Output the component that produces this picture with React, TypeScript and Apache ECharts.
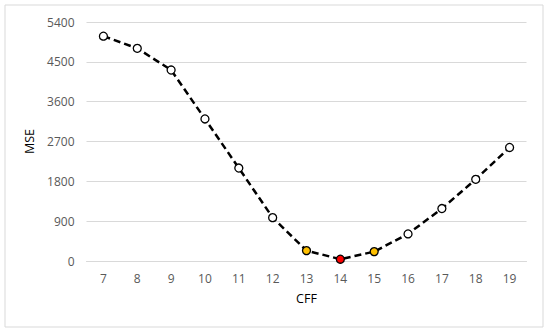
import React, { useEffect, useRef } from "react";
import * as echarts from "echarts";

const categories = ["7", "8", "9", "10", "11", "12", "13", "14", "15", "16", "17", "18", "19"];
const mseValues = [5080, 4805, 4315, 3210, 2100, 980, 235, 40, 212, 612, 1185, 1845, 2565];
const pointColors = ["#ffffff", "#ffffff", "#ffffff", "#ffffff", "#ffffff", "#ffffff", "#ffc000", "#ff0000", "#ffc000", "#ffffff", "#ffffff", "#ffffff", "#ffffff"];
const yMin = 0;
const yMax = 5400;
const yInterval = 900;

export default function App() {
  const ref = useRef<HTMLDivElement>(null);
  useEffect(() => {
    if (!ref.current) return;
    const chart = echarts.init(ref.current, undefined, { renderer: "svg" });
    const font = "Open Sans";
    chart.setOption({
      animation: false,
      backgroundColor: "#ffffff",
      textStyle: { fontFamily: font },
      graphic: [
        {
          type: "rect",
          shape: { x: 5, y: 5, width: 538, height: 322 },
          style: { fill: "none", stroke: "#d9d9d9", lineWidth: 1 },
          silent: true,
        },
      ],
      grid: { left: 86.5, right: 23.5, top: 22, bottom: 73 },
      xAxis: {
        type: "category",
        data: categories,
        boundaryGap: true,
        name: "CFF",
        nameLocation: "middle",
        nameGap: 31,
        nameTextStyle: { color: "#000000", fontSize: 12.5, fontFamily: font },
        axisLine: { show: true, lineStyle: { color: "#d9d9d9", width: 1 } },
        axisTick: { show: false },
        axisLabel: { color: "#595959", fontSize: 12, margin: 11, fontFamily: font },
        splitLine: { show: false },
      },
      yAxis: {
        type: "value",
        min: yMin,
        max: yMax,
        interval: yInterval,
        name: "MSE",
        nameLocation: "middle",
        nameGap: 39,
        nameRotate: 90,
        nameTextStyle: { color: "#000000", fontSize: 12.5, fontFamily: font },
        axisLine: { show: false },
        axisTick: { show: false },
        axisLabel: { color: "#595959", fontSize: 12, margin: 12, fontFamily: font, formatter: (v: number) => String(v) },
        splitLine: { show: true, lineStyle: { color: "#d9d9d9", width: 1 } },
      },
      series: [
        {
          type: "line",
          data: mseValues.map((v, i) => ({
            value: v,
            itemStyle: { color: pointColors[i], borderColor: "#000000", borderWidth: 1.3 },
          })),
          symbol: "circle",
          symbolSize: 8,
          showAllSymbol: true,
          lineStyle: { color: "#000000", width: 2.5, type: [7, 4] },
          itemStyle: { color: "#ffffff", borderColor: "#000000", borderWidth: 1.3 },
        },
      ],
    });
    return () => chart.dispose();
  }, []);
  return <div ref={ref} style={{ position: "fixed", left: 0, top: 0, width: 550, height: 334 }} />;
}
